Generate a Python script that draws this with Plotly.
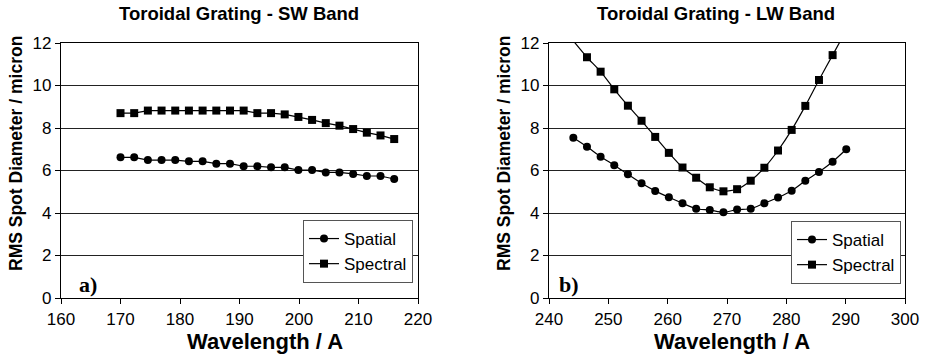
import plotly.graph_objects as go

W, H = 929, 356

# ---- data ----
sw_wavelength = [170.0, 172.3, 174.6, 176.9, 179.2, 181.5, 183.8, 186.1, 188.4, 190.7, 193.0,
                 195.3, 197.6, 199.9, 202.2, 204.5, 206.8, 209.1, 211.4, 213.7, 216.0]
sw_spatial = [6.62, 6.62, 6.49, 6.49, 6.49, 6.43, 6.43, 6.32, 6.32, 6.20, 6.20,
              6.15, 6.15, 6.02, 6.02, 5.91, 5.91, 5.84, 5.74, 5.74, 5.60]
sw_spectral = [8.70, 8.70, 8.82, 8.82, 8.82, 8.82, 8.82, 8.82, 8.82, 8.82, 8.70,
               8.70, 8.64, 8.52, 8.38, 8.23, 8.11, 7.95, 7.78, 7.65, 7.48]

lw_wavelength = [244.1, 246.4, 248.7, 251.0, 253.3, 255.6, 257.9, 260.2, 262.5, 264.8, 267.1,
                 269.4, 271.7, 274.0, 276.3, 278.6, 280.9, 283.2, 285.5, 287.8, 290.1]
lw_spatial = [7.54, 7.12, 6.65, 6.25, 5.82, 5.40, 5.04, 4.74, 4.46, 4.20, 4.14,
              4.03, 4.16, 4.20, 4.46, 4.73, 5.05, 5.52, 5.93, 6.41, 7.00]
lw_spectral = [12.10, 11.33, 10.65, 9.82, 9.05, 8.34, 7.58, 6.83, 6.14, 5.66, 5.21,
               5.02, 5.12, 5.52, 6.13, 6.94, 7.91, 9.04, 10.26, 11.43, 12.60]

y_ticks = [0, 2, 4, 6, 8, 10, 12]
sw_x_ticks = [160, 170, 180, 190, 200, 210, 220]
lw_x_ticks = [240, 250, 260, 270, 280, 290, 300]

titles = ["Toroidal Grating - SW Band", "Toroidal Grating - LW Band"]
x_title = "Wavelength / A"
y_title = "RMS Spot Diameter / micron"
panel_labels = ["a)", "b)"]

FONT = "Liberation Sans, Arial, sans-serif"

def px(x):
    return x / W

def py(y):
    return (H - y) / H

fig = go.Figure()

sz = 8
# the two LW spectral end points lie above the 0-12 range: hide their markers
lw_spec_visible = list(range(1, len(lw_spectral) - 1))

fig.add_trace(go.Scatter(x=sw_wavelength, y=sw_spatial, name="Spatial", mode="lines+markers",
                         line=dict(color="black", width=1.2),
                         marker=dict(symbol="circle", size=sz, color="black", opacity=1),
                         xaxis="x", yaxis="y", legend="legend"))
fig.add_trace(go.Scatter(x=sw_wavelength, y=sw_spectral, name="Spectral", mode="lines+markers",
                         line=dict(color="black", width=1.2),
                         marker=dict(symbol="square", size=sz, color="black", opacity=1),
                         xaxis="x", yaxis="y", legend="legend"))
fig.add_trace(go.Scatter(x=lw_wavelength, y=lw_spatial, name="Spatial", mode="lines+markers",
                         line=dict(color="black", width=1.2, shape="spline", smoothing=0.6),
                         marker=dict(symbol="circle", size=sz, color="black", opacity=1),
                         xaxis="x2", yaxis="y2", legend="legend2"))
fig.add_trace(go.Scatter(x=lw_wavelength, y=lw_spectral, name="Spectral", mode="lines+markers",
                         line=dict(color="black", width=1.2, shape="spline", smoothing=0.6),
                         marker=dict(symbol="square", size=sz, color="black", opacity=1),
                         selectedpoints=lw_spec_visible,
                         selected=dict(marker=dict(opacity=1)),
                         unselected=dict(marker=dict(opacity=0)),
                         xaxis="x2", yaxis="y2", legend="legend2"))

ydom = [py(298), py(43)]
common_x = dict(showgrid=False, zeroline=False, showline=True, linecolor="black", linewidth=1.3,
                mirror=True, ticks="outside", ticklen=5, tickcolor="black", automargin=False,
                tickfont=dict(family=FONT, size=17, color="black"))
common_y = dict(showgrid=True, gridcolor="#222", gridwidth=1, zeroline=False, showline=True,
                linecolor="black", linewidth=1.3, mirror=True, ticks="outside", ticklen=5,
                tickcolor="black", tickvals=y_ticks, range=[0, 12], automargin=False,
                tickfont=dict(family=FONT, size=17, color="black"))

legend_common = dict(bgcolor="white", bordercolor="#555", borderwidth=1,
                     font=dict(family=FONT, size=17, color="black"),
                     xanchor="left", yanchor="top", tracegroupgap=0, itemwidth=30)

fig.update_layout(
    template="none",
    width=W, height=H,
    margin=dict(l=0, r=0, t=0, b=0, autoexpand=False),
    paper_bgcolor="white", plot_bgcolor="white",
    xaxis=dict(domain=[px(61), px(418)], range=[160, 220], tickvals=sw_x_ticks,
               anchor="y", **common_x),
    yaxis=dict(domain=ydom, anchor="x", **common_y),
    xaxis2=dict(domain=[px(549), px(905)], range=[240, 300], tickvals=lw_x_ticks,
                anchor="y2", **common_x),
    yaxis2=dict(domain=ydom, anchor="x2", **common_y),
    legend=dict(x=px(303), y=py(220), **legend_common),
    legend2=dict(x=px(791), y=py(221), **legend_common),
    showlegend=True,
)

annotations = []
for cx, t in zip([239, 716], titles):
    annotations.append(dict(x=px(cx), y=py(14), xref="paper", yref="paper", text="<b>%s</b>" % t,
                            showarrow=False, xanchor="center", yanchor="middle",
                            font=dict(family=FONT, size=18.5, color="black")))
for cx in [265, 732]:
    annotations.append(dict(x=px(cx), y=py(341), xref="paper", yref="paper", text="<b>%s</b>" % x_title,
                            showarrow=False, xanchor="center", yanchor="middle",
                            font=dict(family=FONT, size=22, color="black")))
for cx in [16, 504]:
    annotations.append(dict(x=px(cx), y=py(154), xref="paper", yref="paper", text="<b>%s</b>" % y_title,
                            showarrow=False, xanchor="center", yanchor="middle", textangle=-90,
                            font=dict(family=FONT, size=17.5, color="black")))
for cx, lab in zip([88, 569], panel_labels):
    annotations.append(dict(x=px(cx), y=py(284), xref="paper", yref="paper", text="<b>%s</b>" % lab,
                            showarrow=False, xanchor="center", yanchor="middle",
                            font=dict(family="Liberation Serif, Times New Roman, serif", size=22, color="black")))
fig.update_layout(annotations=annotations)

fig.write_html("out.html")
